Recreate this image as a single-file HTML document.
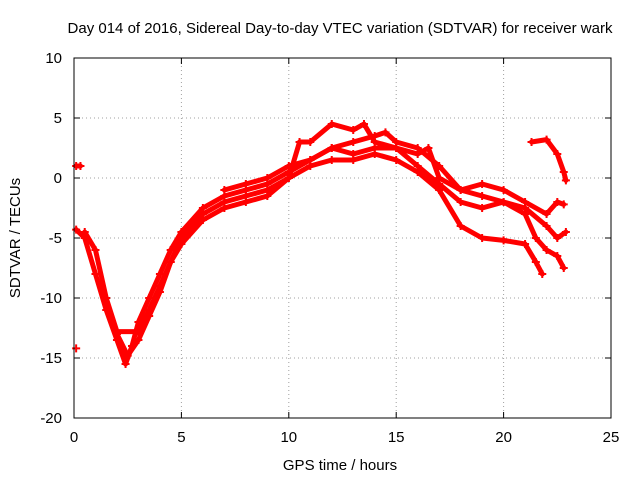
<!DOCTYPE html>
<html><head><meta charset="utf-8">
<style>
body{margin:0;background:#fff;}
svg{display:block;font-family:"Liberation Sans",sans-serif;}
</style></head>
<body>
<svg id="chart" width="640" height="480" viewBox="0 0 640 480">
<text x="340" y="33" font-size="15" text-anchor="middle">Day 014 of 2016, Sidereal Day-to-day VTEC variation (SDTVAR) for receiver wark</text>
<text x="340" y="470" font-size="15" text-anchor="middle">GPS time / hours</text>
<text transform="translate(20,238) rotate(-90)" font-size="15" text-anchor="middle">SDTVAR / TECUs</text>
<g id="grid"></g><g id="ticks"></g><g id="series"></g>
<rect x="74" y="58" width="537" height="360" fill="none" stroke="#000" stroke-width="1"/>
</svg>
<script>
const xTicks=[0,5,10,15,20,25];
const yTicks=[10,5,0,-5,-10,-15,-20];
const trackA=[[0.1,-4.3],[0.5,-5],[1,-8],[1.5,-11],[2,-13.5],[2.4,-15.5],[2.7,-14],[3,-12],[3.5,-10],[4,-8],[4.5,-6],[5,-4.5],[6,-2.5],[7,-1.5],[8,-1],[9,-0.5],[10,0.5],[11,1.5],[12,2.5],[13,3],[14,3.5],[14.5,3.8],[15,3],[16,2.5],[17,1],[18,-1],[19,-1.5],[20,-2],[21,-3],[21.5,-5],[22,-6],[22.5,-6.5],[22.8,-7.5]];
const trackB=[[0.5,-4.5],[1,-6],[1.5,-10],[2,-12.8],[3,-12.8],[3.5,-11],[4,-9],[4.5,-7],[5,-5],[6,-3],[7,-2],[8,-1.5],[9,-1],[10,0],[11,1],[12,1.5],[13,1.5],[14,2],[15,1.5],[16,0.5],[17,-1],[18,-4],[19,-5],[20,-5.2],[21,-5.5],[21.5,-7],[21.8,-8]];
const trackC=[[2,-13],[2.5,-14.8],[3,-13.5],[3.5,-11.5],[4,-9.5],[4.5,-7],[5,-5.5],[6,-3.5],[7,-2.5],[8,-2],[9,-1.5],[10,0],[10.5,3],[11,3],[12,4.5],[13,4],[13.5,4.5],[14,3],[15,2.5],[16,2],[16.5,2.5],[17,0],[18,-1],[19,-0.5],[20,-1],[21,-2],[22,-3],[22.5,-2],[22.8,-2.2]];
const trackD=[[7,-1],[8,-0.5],[9,0],[10,1],[11,1.5],[12,2.5],[13,2],[14,2.5],[15,2.5],[16,1],[17,-0.5],[18,-2],[19,-2.5],[20,-2],[21,-2.5],[22,-4],[22.5,-5],[22.9,-4.5]];
const trackE=[[21.3,3],[22,3.2],[22.5,2],[22.8,0.5],[22.9,-0.2]];
const trackF=[[0.1,1],[0.3,1]];
const trackG=[[0.1,-14.2]];
const tracks=[trackA,trackB,trackC,trackD,trackE,trackF,trackG];
const NS="http://www.w3.org/2000/svg";
const X=v=>74+v*(537/25);
const Y=v=>178-v*12;
function mk(tag,attrs,parent){const e=document.createElementNS(NS,tag);for(const k in attrs)e.setAttribute(k,attrs[k]);parent.appendChild(e);return e;}
const grid=document.getElementById('grid'),ticks=document.getElementById('ticks'),ser=document.getElementById('series');
xTicks.forEach(t=>{
 if(t>0&&t<25){const g=mk('line',{x1:X(t),x2:X(t),y1:58,y2:418,stroke:'#a0a0a0','stroke-dasharray':'1,3'},grid);
 
 }
 mk('line',{x1:X(t),x2:X(t),y1:418,y2:412,stroke:'#000'},ticks);
 mk('line',{x1:X(t),x2:X(t),y1:58,y2:64,stroke:'#000'},ticks);
 const l=mk('text',{x:X(t),y:442,'font-size':15,'text-anchor':'middle'},ticks);l.textContent=t;
 
 
});
yTicks.forEach(t=>{
 if(t<10&&t>-20){const g=mk('line',{x1:74,x2:611,y1:Y(t),y2:Y(t),stroke:'#a0a0a0','stroke-dasharray':'1,3'},grid);
 
 }
 mk('line',{x1:74,x2:80,y1:Y(t),y2:Y(t),stroke:'#000'},ticks);
 mk('line',{x1:611,x2:605,y1:Y(t),y2:Y(t),stroke:'#000'},ticks);
 const l=mk('text',{x:62,y:Y(t)+5,'font-size':15,'text-anchor':'end'},ticks);l.textContent=t;
 
 
});
tracks.forEach((tr,i)=>{
 const g=mk('g',{},ser);
 
 
 if(tr.length>1){
  mk('polyline',{points:tr.map(p=>X(p[0])+','+Y(p[1])).join(' '),fill:'none',stroke:'#f00','stroke-width':5,'stroke-linejoin':'round','stroke-linecap':'round'},g);
 }
 tr.forEach(p=>{
  mk('path',{d:`M${X(p[0])-4},${Y(p[1])}h8M${X(p[0])},${Y(p[1])-4}v8`,stroke:'#f00','stroke-width':2},g);
 });
});
</script>
</body></html>
